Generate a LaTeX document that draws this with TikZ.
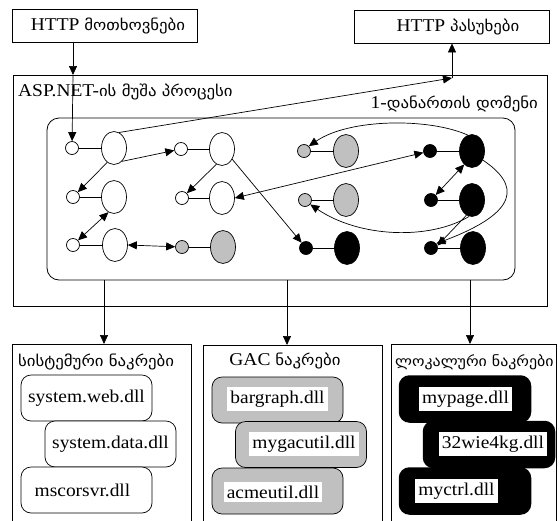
\documentclass[tikz,border=0pt]{standalone}
\usepackage{fontspec}
\setmainfont{Liberation Serif}
\newfontfamily\latf[FakeStretch=1.08]{Liberation Serif}
\newfontfamily\geofont[FakeStretch=1.12]{DejaVu Sans}
\usetikzlibrary{arrows.meta,shapes.geometric}
\newcommand\kaT[1]{{\geofont\fontsize{15}{18}\selectfont #1}}
\newcommand\kaS[1]{{\geofont\fontsize{14.2}{17}\selectfont #1}}
\definecolor{gr}{HTML}{C0C0C0}
\tikzset{
  sm/.style={circle,draw,line width=0.7pt,minimum size=13pt,inner sep=0pt},
  el/.style={ellipse,draw,line width=0.7pt,minimum width=25pt,minimum height=33pt,inner sep=0pt},
  wf/.style={fill=white},
  gf/.style={fill=gr},
  bf/.style={fill=black},
  tip/.tip={Triangle[length=9pt,width=8pt]},
  arr/.style={-tip,line width=0.7pt},
  darr/.style={tip-tip,line width=0.7pt},
  frame/.style={draw,line width=0.8pt,inner sep=0pt},
  txt/.style={font=\latf\fontsize{18}{21}\selectfont,inner sep=0pt},
  dll/.style={draw,rounded corners=10pt,minimum width=131pt,minimum height=46pt,inner sep=0pt,line width=0.7pt},
  dllg/.style={dll,fill=gr},
  dllb/.style={dll,fill=black,line width=1.5pt},
  lbl/.style={font=\latf\fontsize{18}{21}\selectfont,fill=white,inner xsep=3pt,inner ysep=4pt},
}
\begin{document}
\begin{tikzpicture}[x=1pt,y=-1pt]
\useasboundingbox[fill=white] (0,0) rectangle (560,520);
% top boxes
\node[frame,minimum width=185pt,minimum height=33pt] (req) at (104.5,25.5) {};
\node[txt] (reqt) at (108,25.5) {HTTP \kaT{მოთხოვნები}};
\node[frame,minimum width=195pt,minimum height=33pt] (resp) at (451.5,26.5) {};
\node[txt] (respt) at (458,26.5) {HTTP \kaT{პასუხები}};
% worker process
\node[frame,minimum width=534pt,minimum height=231pt] (asp) at (280,190.5) {};
\node[txt,anchor=west] (aspt) at (18,92) {ASP.NET-\kaT{ის მუშა პროცესი}};
\node[txt,anchor=east] (domt) at (538,104) {1-\kaT{დანართის დომენი}};
\node[draw,line width=0.8pt,rounded corners=12pt,minimum width=468pt,minimum height=162pt,inner sep=0pt] (dom) at (281,199) {};
% small nodes
\node[sm,wf] (c11) at (72,148) {};  \node[el,wf] (e11) at (114,148) {};
\node[sm,wf] (c21) at (73,197) {};  \node[el,wf] (e21) at (114,197) {};
\node[sm,wf] (c31) at (73,245) {};  \node[el,wf] (e31) at (115,245) {};
\node[sm,wf] (c12) at (181,149) {}; \node[el,wf] (e12) at (222,149) {};
\node[sm,wf] (c22) at (182,198) {}; \node[el,wf] (e22) at (222,198) {};
\node[sm,gf] (c32) at (182,247) {}; \node[el,gf] (e32) at (223,247) {};
\node[sm,gf] (c13) at (304,151) {}; \node[el,gf] (e13) at (346,151) {};
\node[sm,gf] (c23) at (305,200) {}; \node[el,gf] (e23) at (346,200) {};
\node[sm,bf] (c33) at (306,248) {}; \node[el,bf] (e33) at (347,248) {};
\node[sm,bf] (c14) at (430,151) {}; \node[el,bf] (e14) at (472,151) {};
\node[sm,bf] (c24) at (431,200) {}; \node[el,bf] (e24) at (472,200) {};
\node[sm,bf] (c34) at (431,248) {}; \node[el,bf] (e34) at (473,248) {};
\foreach \r in {1,2,3}{\foreach \k in {1,2,3,4}{\draw[line width=0.7pt] (c\r\k) -- (e\r\k);}}
% connectors
\coordinate (aspIn) at (73,75);
\coordinate (respIn) at (452,78);
\draw[arr] (req.south -| aspIn) -- (aspIn);
\draw[arr] (aspIn) -- (c11);
\draw[arr] (e11.72) -- (respIn);
\draw[arr] (respIn) -- (resp.south -| respIn);
\draw[arr] (e11.-60) -- (c12);
\draw[arr] (e11.-115) -- (c21);
\draw[darr] (e21.-110) -- (c31);
\draw[darr] (e31.east) -- (c32);
\draw[arr] (e12.-110) -- (c22);
\draw[arr] (e12.-45) -- (c33);
\draw[darr] (e22.east) -- (c14);
\draw[arr] (e14.105) .. controls (430,118) and (350,118) .. (c13.45);
\draw[darr] (e14.-120) -- (c24);
\draw[arr] (e14.-40) .. controls (520,185) and (520,212) .. (c34.40);
\draw[arr] (e24.-110) -- (c34.20);
\draw[arr] (e24.-100) .. controls (430,240) and (360,238) .. (c23.-40);
% bottom boxes
\node[frame,minimum width=179pt,minimum height=196pt] (sys) at (101.5,442) {};
\node[frame,minimum width=179pt,minimum height=195pt] (gac) at (292.5,442.5) {};
\node[frame,minimum width=165pt,minimum height=196pt] (loc) at (473.5,442) {};
\coordinate (sysIn) at (104,344);
\coordinate (gacIn) at (287,345);
\coordinate (locIn) at (470,344);
\draw[arr] (dom.south -| sysIn) -- (sysIn);
\draw[arr] (dom.south -| gacIn) -- (gacIn);
\draw[arr] (dom.south -| locIn) -- (locIn);
\node[anchor=west,inner sep=0pt] (syst) at (18,362) {\kaT{სისტემური ნაკრები}};
\node[txt] (gact) at (285,361) {GAC \kaT{ნაკრები}};
\node[anchor=west,inner sep=0pt] (loct) at (395,362) {\kaS{ლოკალური ნაკრები}};
% system dlls
\node[dll,fill=white] (s1) at (86.5,398) {};
\node[txt] (s1t) at (s1) {system.web.dll};
\node[dll,fill=white] (s2) at (110.5,444) {};
\node[txt] (s2t) at (s2) {system.data.dll};
\node[dll,fill=white] (s3) at (86.5,490) {};
\node[txt] (s3t) at (82.5,490) {mscorsvr.dll};
% GAC dlls
\node[dllg] (g1) at (277.5,400) {};
\node[lbl] (g1t) at (277.5,399) {bargraph.dll};
\node[dllg] (g2) at (301,444.5) {};
\node[lbl] (g2t) at (304,444) {mygacutil.dll};
\node[dllg] (g3) at (277.5,491) {};
\node[lbl] (g3t) at (273,492) {acmeutil.dll};
% local dlls
\node[dllb] (l1) at (465,399) {};
\node[lbl] (l1t) at (465.5,399) {mypage.dll};
\node[dllb] (l2) at (489,444.5) {};
\node[lbl] (l2t) at (493,444) {32wie4kg.dll};
\node[dllb] (l3) at (465,491) {};
\node[lbl] (l3t) at (456.5,491) {myctrl.dll};
\end{tikzpicture}
\end{document}
